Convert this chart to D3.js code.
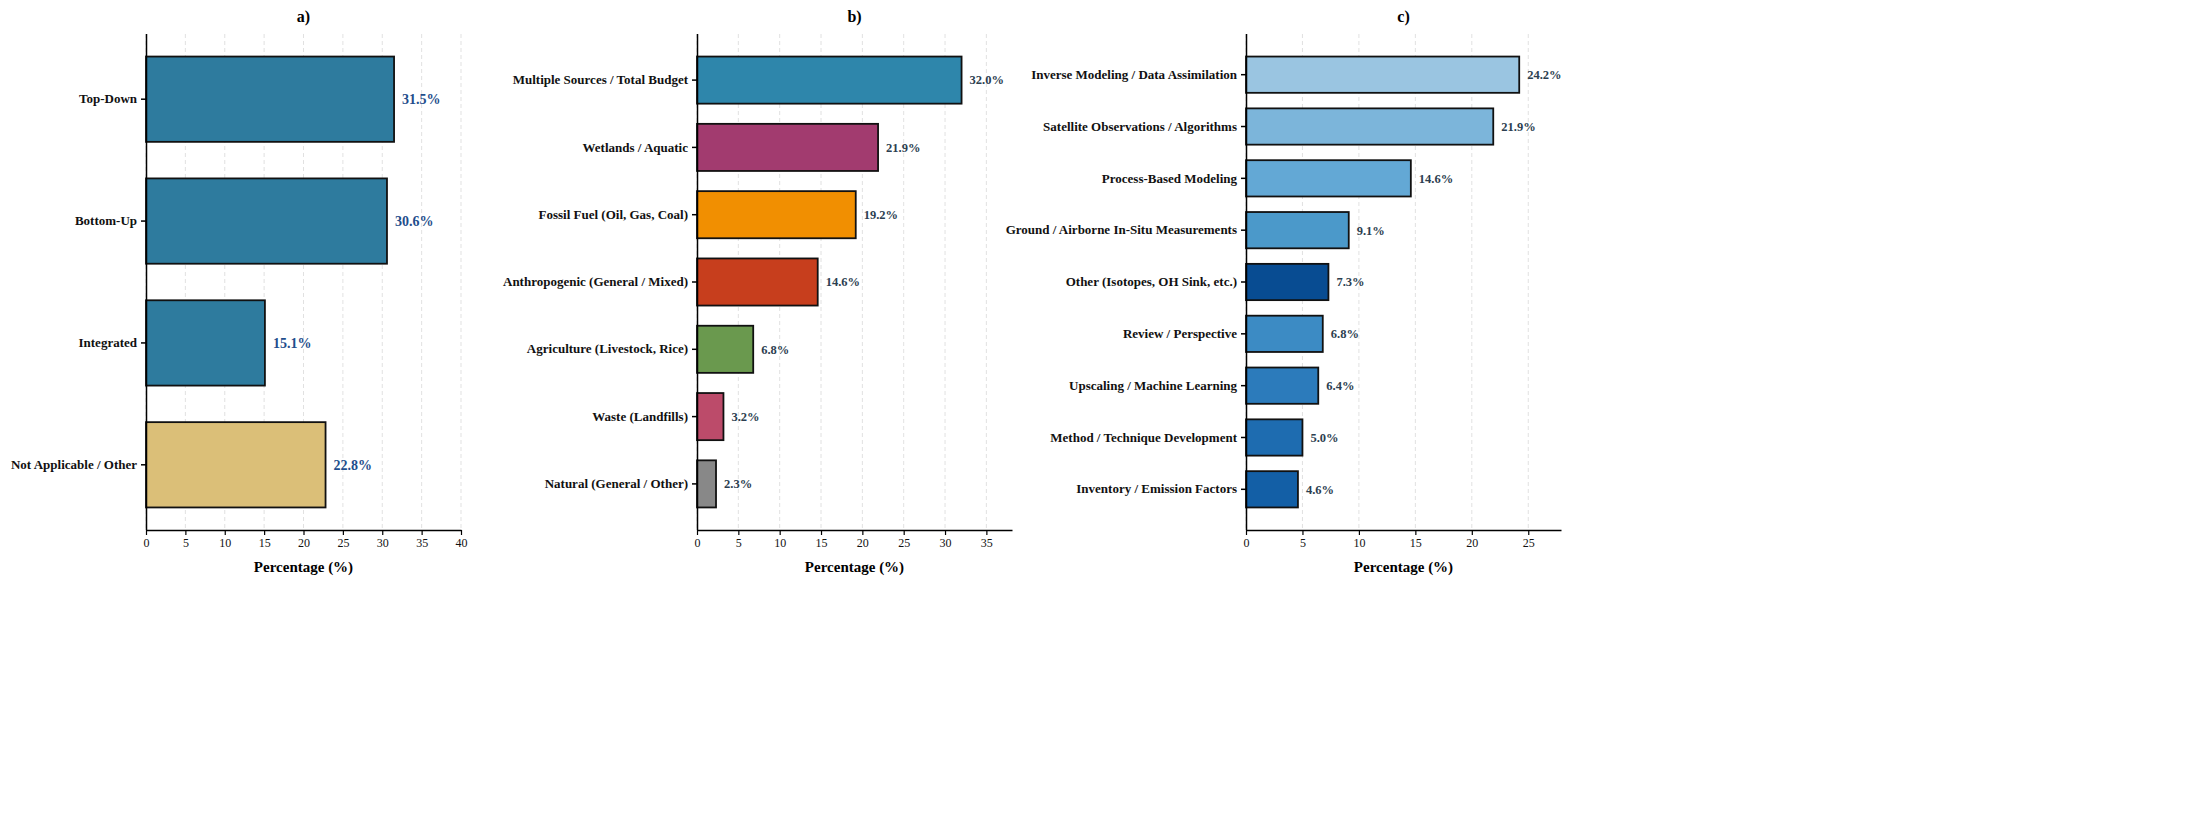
<!DOCTYPE html>
<html>
<head>
<meta charset="utf-8">
<script src="https://cdn.jsdelivr.net/npm/d3@7"></script>
<style>
    body { margin: 0; background: #fff; }
    text { font-family: "Liberation Serif", "Times New Roman", serif; }
</style>
</head>
<body>
<div id="chart"></div>
<script>
// panel a
var categoriesA = ['Top-Down', 'Bottom-Up', 'Integrated', 'Not Applicable / Other'],
    valuesA = [31.5, 30.6, 15.1, 22.8],
    ticksA = [0, 5, 10, 15, 20, 25, 30, 35, 40];

// panel b
var categoriesB = ['Multiple Sources / Total Budget', 'Wetlands / Aquatic', 'Fossil Fuel (Oil, Gas, Coal)',
        'Anthropogenic (General / Mixed)', 'Agriculture (Livestock, Rice)', 'Waste (Landfills)',
        'Natural (General / Other)'],
    valuesB = [32.0, 21.9, 19.2, 14.6, 6.8, 3.2, 2.3],
    ticksB = [0, 5, 10, 15, 20, 25, 30, 35];

// panel c
var categoriesC = ['Inverse Modeling / Data Assimilation', 'Satellite Observations / Algorithms',
        'Process-Based Modeling', 'Ground / Airborne In-Situ Measurements', 'Other (Isotopes, OH Sink, etc.)',
        'Review / Perspective', 'Upscaling / Machine Learning', 'Method / Technique Development',
        'Inventory / Emission Factors'],
    valuesC = [24.2, 21.9, 14.6, 9.1, 7.3, 6.8, 6.4, 5.0, 4.6],
    ticksC = [0, 5, 10, 15, 20, 25];

var colorsA = ['#2e7b9e', '#2e7b9e', '#2e7b9e', '#dbbf78'],
    colorsB = ['#2e86ab', '#a23b6f', '#f18f01', '#c73e1d', '#6a994e', '#bc4b6a', '#888888'],
    colorsC = ['#9ac5e1', '#7cb5da', '#63a8d5', '#4b99ca', '#084c92', '#3c8bc4', '#2c7bbb', '#1e6cb0', '#135fa6'];

var width = 2190,
    height = 822,
    plotTop = 34,
    plotBottom = 530,
    panelWidth = 315;

var svg = d3.select('#chart').append('svg')
    .attr('width', width)
    .attr('height', height)
    .style('background', '#fff');

drawPanel = function drawPanel(opts) {
    var n = opts.categories.length,
        x = d3.scaleLinear().domain([0, opts.xMax]).range([0, panelWidth]),
        y = d3.scaleBand()
            .domain(opts.categories)
            .range([plotTop, plotBottom])
            .paddingInner(0.3)
            .paddingOuter(0.05 * (n - 0.3));

    var g = svg.append('g')
        .attr('transform', 'translate(' + opts.left + ',0)');

    // grid
    g.append('g')
        .selectAll('line')
        .data(opts.ticks)
      .enter().append('line')
        .attr('x1', function(d) { return x(d); })
        .attr('x2', function(d) { return x(d); })
        .attr('y1', plotTop)
        .attr('y2', plotBottom)
        .style('stroke', '#d9d9d9')
        .style('stroke-width', 0.8)
        .style('stroke-dasharray', '4,3');

    g.selectAll('.bar')
        .data(opts.values)
      .enter().append('rect')
        .attr('class', 'bar')
        .attr('x', x(0))
        .attr('y', function(d, i) { return y(opts.categories[i]); })
        .attr('width', function(d) { return x(d) - x(0); })
        .attr('height', y.bandwidth())
        .style('fill', function(d, i) { return opts.colors[i]; })
        .style('stroke', '#111')
        .style('stroke-width', 1.8);

    g.selectAll('.val')
        .data(opts.values)
      .enter().append('text')
        .attr('class', 'val')
        .attr('x', function(d) { return x(d) + 8; })
        .attr('y', function(d, i) { return y(opts.categories[i]) + y.bandwidth() / 2; })
        .attr('dy', '0.35em')
        .style('font-size', opts.valueSize + 'px')
        .style('font-weight', 'bold')
        .style('fill', opts.valueColor)
        .text(function(d) { return d.toFixed(1) + '%'; });

    var yAxis = g.append('g')
        .call(d3.axisLeft(y).tickSize(5).tickPadding(4));
    yAxis.select('.domain').attr('d', 'M0.5,' + plotTop + 'V' + plotBottom).style('stroke-width', 1.5);
    yAxis.selectAll('.tick line').style('stroke-width', 1.5);
    yAxis.selectAll('.tick text')
        .style('font-size', '13px')
        .style('font-weight', 'bold')
        .style('font-family', '"Liberation Serif", serif')
        .style('fill', '#111');

    var xAxis = g.append('g')
        .attr('transform', 'translate(0,' + plotBottom + ')')
        .call(d3.axisBottom(x).tickValues(opts.ticks).tickSize(5).tickPadding(3).tickSizeOuter(0));
    xAxis.select('.domain').style('stroke-width', 1.5);
    xAxis.selectAll('.tick line').style('stroke-width', 1.2);
    xAxis.selectAll('.tick text')
        .style('font-size', '12px')
        .style('font-family', '"Liberation Serif", serif')
        .style('fill', '#111');

    g.append('text')
        .attr('x', panelWidth / 2)
        .attr('y', 572)
        .attr('text-anchor', 'middle')
        .style('font-size', '15px')
        .style('font-weight', 'bold')
        .text('Percentage (%)');

    g.append('text')
        .attr('x', panelWidth / 2)
        .attr('y', 22)
        .attr('text-anchor', 'middle')
        .style('font-size', '16px')
        .style('font-weight', 'bold')
        .text(opts.title);
};

drawPanel({ left: 146, title: 'a)', categories: categoriesA, values: valuesA, ticks: ticksA,
    xMax: 40, colors: colorsA, valueColor: '#1f4e8c', valueSize: 14 });
drawPanel({ left: 697, title: 'b)', categories: categoriesB, values: valuesB, ticks: ticksB,
    xMax: 38.1, colors: colorsB, valueColor: '#2c3e50', valueSize: 12.5 });
drawPanel({ left: 1246, title: 'c)', categories: categoriesC, values: valuesC, ticks: ticksC,
    xMax: 27.9, colors: colorsC, valueColor: '#2c3e50', valueSize: 12.5 });
</script>
</body>
</html>
